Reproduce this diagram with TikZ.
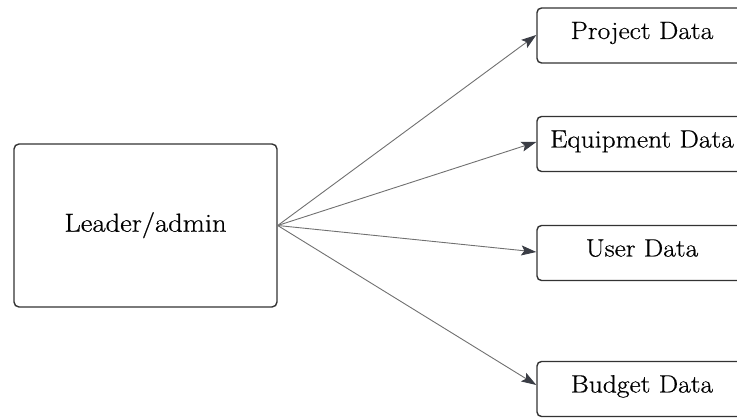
\documentclass[tikz,border=0pt]{standalone}
\usepackage{fontspec}
\setmainfont{Latin Modern Roman}[FakeStretch=1.1,FakeBold=0.6]
\usetikzlibrary{arrows.meta}
\definecolor{boxline}{HTML}{333333}
\definecolor{arrline}{HTML}{707070}
\definecolor{arrhead}{HTML}{3A3D45}
\tikzset{
  databox/.style={draw=boxline, line width=1.4pt, rounded corners=4.5pt,
    minimum width=210pt, minimum height=55pt, inner sep=0pt,
    font=\fontsize{25}{29}\selectfont, text height=12pt, text depth=5pt},
  leaderbox/.style={draw=boxline, line width=1.4pt, rounded corners=5pt,
    minimum width=263pt, minimum height=163pt, inner sep=0pt,
    font=\fontsize{26}{30}\selectfont, text height=18pt, text depth=5.6pt},
  conn/.style={draw=arrline, line width=0.9pt,
    -{Stealth[length=15pt,width=10pt,inset=3pt,fill=arrhead,color=arrhead]}},
}
\begin{document}
\begin{tikzpicture}[x=1pt,y=-1pt]
\useasboundingbox (0,0) rectangle (737,419);
\node[leaderbox] (leader) at (145.5,225.5) {Leader/admin};
\node[databox] (proj) at (642,35.5) {Project Data};
\node[databox] (equip) at (642,144) {Equipment Data};
\node[databox] (user) at (642,253) {User Data};
\node[databox] (budget) at (642,389) {Budget Data};
\draw[conn] (leader.east) -- ([yshift=0.5pt]proj.west);
\draw[conn] (leader.east) -- ([yshift=2pt]equip.west);
\draw[conn] (leader.east) -- ([yshift=1pt]user.west);
\draw[conn] (leader.east) -- ([yshift=4pt]budget.west);
\end{tikzpicture}
\end{document}
